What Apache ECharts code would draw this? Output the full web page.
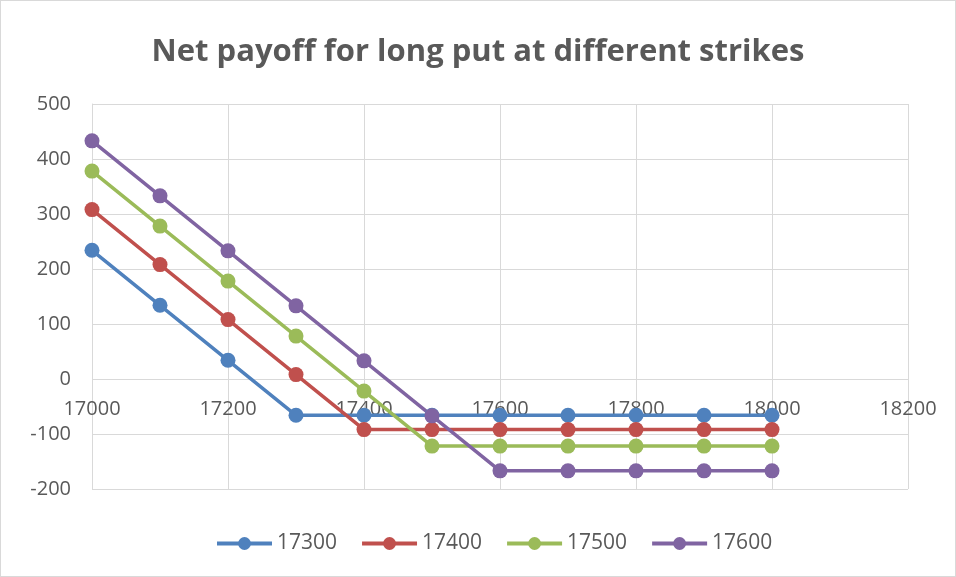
<!DOCTYPE html>
<html>
<head>
<meta charset="utf-8">
<script src="https://cdn.jsdelivr.net/npm/echarts@6/dist/echarts.min.js"></script>
<style>
  html, body { margin: 0; padding: 0; background: #fff; }
  #chart { width: 956px; height: 577px; box-sizing: border-box; border: 1px solid #d9d9d9; }
</style>
</head>
<body>
<div id="chart"></div>
<script>
// underlying prices
var prices = [17000, 17100, 17200, 17300, 17400, 17500, 17600, 17700, 17800, 17900, 18000];
// net payoff per strike
var strikeNames = ['17300', '17400', '17500', '17600'];
var s17300 = [234, 134, 34, -66, -66, -66, -66, -66, -66, -66, -66];
var s17400 = [308, 208, 108, 8, -92, -92, -92, -92, -92, -92, -92];
var s17500 = [378, 278, 178, 78, -22, -122, -122, -122, -122, -122, -122];
var s17600 = [433, 333, 233, 133, 33, -67, -167, -167, -167, -167, -167];
var colors = ['#4F81BD', '#C0504D', '#9BBB59', '#8064A2'];

function pairs(vals) {
  return prices.map(function (p, i) { return [p, vals[i]]; });
}

var chart = echarts.init(document.getElementById('chart'));
var allVals = [s17300, s17400, s17500, s17600];
var series = [];
for (var i = 0; i < strikeNames.length; i++) {
  series.push({
    name: strikeNames[i],
    type: 'line',
    data: pairs(allVals[i]),
    symbol: 'circle',
    symbolSize: 15,
    lineStyle: { width: 3.5, color: colors[i] },
    itemStyle: { color: colors[i] }
  });
}

// the x labels sit just under the zero line, as Excel draws them
var plotTop = 103, plotBottom = 490, yMin = -200, yMax = 500;
var zeroY = plotTop + (plotBottom - plotTop) * yMax / (yMax - yMin);

chart.setOption({
  animation: false,
  textStyle: { fontFamily: 'Open Sans' },
  title: {
    text: 'Net payoff for long put at different strikes',
    left: 'center',
    top: 31,
    textStyle: { fontSize: 31, fontWeight: 'bold', color: '#595959', fontFamily: 'Open Sans' }
  },
  legend: {
    bottom: 17,
    left: 209,
    itemWidth: 55,
    itemHeight: 16,
    itemGap: 23,
    lineStyle: { width: 4 },
    textStyle: { fontSize: 21, color: '#595959' },
    data: strikeNames
  },
  grid: { left: 91, right: 47, top: plotTop, bottom: 577 - plotBottom, containLabel: false },
  xAxis: {
    type: 'value',
    min: 17000,
    max: 18200,
    interval: 200,
    axisLine: { show: false },
    axisTick: { show: false },
    axisLabel: {
      fontSize: 20, color: '#595959',
      margin: Math.round(zeroY + 21 - plotBottom),
      formatter: function (v) { return String(v); }
    },
    splitLine: { lineStyle: { color: '#d9d9d9', width: 1 } }
  },
  yAxis: {
    type: 'value',
    min: yMin,
    max: yMax,
    interval: 100,
    axisLine: { show: true, onZero: false, lineStyle: { color: '#d9d9d9', width: 1 } },
    axisTick: { show: false },
    axisLabel: { fontSize: 20, color: '#595959', margin: 21 },
    splitLine: { lineStyle: { color: '#d9d9d9', width: 1 } }
  },
  series: series
});
</script>
</body>
</html>
